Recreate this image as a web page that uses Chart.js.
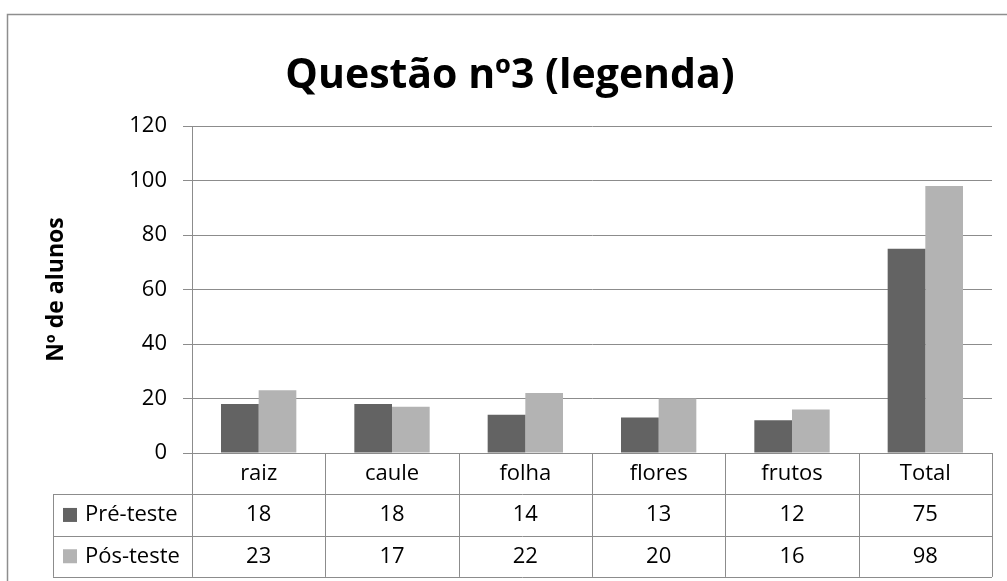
<!DOCTYPE html>
<html>
<head>
<meta charset="utf-8">
<script src="https://cdn.jsdelivr.net/npm/chart.js@4.4.1/dist/chart.umd.min.js"></script>
<style>
  body { margin: 0; background: #fff; }
</style>
</head>
<body>
<canvas id="barChart" width="1007" height="581"></canvas>
<script>
const categories = ['raiz', 'caule', 'folha', 'flores', 'frutos', 'Total'];
const preTeste = [18, 18, 14, 13, 12, 75];
const posTeste = [23, 17, 22, 20, 16, 98];
const seriesNames = ['Pré-teste', 'Pós-teste'];
const seriesColors = ['#636363', '#b3b3b3'];

const FONT = '"Open Sans", Lato, sans-serif';
const lineGray = '#8c8c8c';

// Excel-style data table under the chart, drawn from the same arrays
const dataTable = {
  id: 'dataTable',
  beforeDraw(chart) {
    const c = chart.ctx;
    c.save();
    c.strokeStyle = '#8e8e8e';
    c.lineWidth = 1.5;
    c.strokeRect(7.5, 14.5, 1200, 800);
    c.restore();
  },
  afterDraw(chart) {
    const c = chart.ctx;
    const x = chart.scales.x;
    const area = chart.chartArea;
    const n = categories.length;
    const colW = (x.right - x.left) / n;
    const rowH = 41.3;
    const top = area.bottom;
    const bottom = top + rowH * 3;
    const legendLeft = 53;

    c.save();
    c.strokeStyle = lineGray;
    c.lineWidth = 1;
    c.beginPath();
    // column borders
    for (let i = 0; i <= n; i++) {
      const px = Math.round(x.left + colW * i) + 0.5;
      c.moveTo(px, top);
      c.lineTo(px, bottom);
    }
    c.moveTo(legendLeft + 0.5, top + rowH);
    c.lineTo(legendLeft + 0.5, bottom);
    for (let r = 1; r <= 3; r++) {
      const py = Math.round(top + rowH * r) + 0.5;
      c.moveTo(legendLeft, py);
      c.lineTo(x.right, py);
    }
    c.stroke();

    c.fillStyle = '#000';
    c.font = '22px ' + FONT;
    c.textAlign = 'center';
    c.textBaseline = 'middle';
    categories.forEach((cat, i) => {
      c.fillText(cat, x.getPixelForValue(i), top + rowH * 0.5);
    });
    chart.data.datasets.forEach((ds, r) => {
      const cy = top + rowH * (r + 1.5);
      ds.data.forEach((v, i) => {
        c.fillText(String(v), x.getPixelForValue(i), cy);
      });
      c.fillStyle = ds.backgroundColor;
      c.fillRect(legendLeft + 10, cy - 7, 14, 14);
      c.fillStyle = '#000';
      c.textAlign = 'left';
      c.fillText(ds.label, legendLeft + 32, cy);
      c.textAlign = 'center';
    });
    c.restore();
  }
};

new Chart(document.getElementById('barChart'), {
  type: 'bar',
  data: {
    labels: categories,
    datasets: [{
      label: seriesNames[0],
      data: preTeste,
      backgroundColor: seriesColors[0]
    }, {
      label: seriesNames[1],
      data: posTeste,
      backgroundColor: seriesColors[1]
    }]
  },
  options: {
    responsive: false,
    animation: false,
    layout: { padding: { left: 28, right: 15, top: 0, bottom: 0 } },
    datasets: {
      bar: { categoryPercentage: 0.565, barPercentage: 1 }
    },
    plugins: {
      legend: { display: false },
      tooltip: { enabled: false },
      title: {
        display: true,
        text: 'Questão nº3 (legenda)',
        color: '#000',
        font: { family: FONT, size: 41, weight: 'bold' },
        padding: { top: 52, bottom: 25 }
      }
    },
    scales: {
      x: {
        ticks: { display: false },
        grid: { display: false },
        border: { display: false },
        afterFit(scale) { scale.height = 128; }
      },
      y: {
        min: 0,
        max: 120,
        ticks: {
          stepSize: 20,
          color: '#000',
          padding: 16,
          font: { family: FONT, size: 22 }
        },
        grid: { color: lineGray, tickLength: 9 },
        border: { color: lineGray },
        title: {
          display: true,
          text: 'Nº de alunos',
          color: '#000',
          font: { family: FONT, size: 23, weight: 'bold' },
          padding: { top: 15 }
        },
        afterFit(scale) { scale.width = 164; }
      }
    }
  },
  plugins: [dataTable]
});
</script>
</body>
</html>
